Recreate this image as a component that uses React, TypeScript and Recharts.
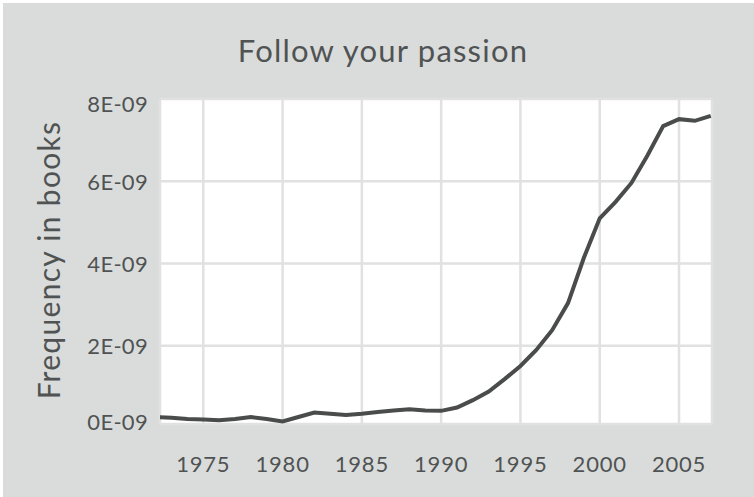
import React from "react";
import { LineChart, Line, XAxis, YAxis, CartesianGrid } from "recharts";

const years = [
  1972, 1973, 1974, 1975, 1976, 1977, 1978, 1979, 1980, 1981, 1982, 1983,
  1984, 1985, 1986, 1987, 1988, 1989, 1990, 1991, 1992, 1993, 1994, 1995,
  1996, 1997, 1998, 1999, 2000, 2001, 2002, 2003, 2004, 2005, 2006, 2007,
];
// frequency in units of 1E-09
const frequency = [
  0.27, 0.25, 0.22, 0.21, 0.19, 0.22, 0.27, 0.22, 0.16, 0.27, 0.38, 0.35,
  0.32, 0.35, 0.39, 0.43, 0.46, 0.43, 0.42, 0.5, 0.68, 0.89, 1.19, 1.51,
  1.9, 2.38, 3.04, 4.14, 5.1, 5.5, 5.96, 6.62, 7.34, 7.51, 7.47, 7.59,
];
const xTicks = [1975, 1980, 1985, 1990, 1995, 2000, 2005];
const yTicks = [0.1e-9, 2e-9, 4e-9, 6e-9, 8e-9];
const title = "Follow your passion";
const yLabel = "Frequency in books";

const data = years.map((y, i) => ({ year: y, freq: frequency[i] * 1e-9 }));

const TEXT = "#505353";
const FONT = "Lato, 'Open Sans', sans-serif";

const XTick = (props: any) => {
  const { x, y, payload } = props;
  return (
    <text x={x} y={y + 31} textAnchor="middle" dominantBaseline="central" fill={TEXT} fontSize={22} letterSpacing={0.8} fontFamily={FONT}>
      {payload.value}
    </text>
  );
};

const YTick = (props: any) => {
  const { y, payload } = props;
  const yy = Math.min(Math.max(y, 103), 421);
  return (
    <text x={148} y={yy} textAnchor="end" dominantBaseline="central" fill={TEXT} fontSize={22} letterSpacing={0.3} fontFamily={FONT}>
      {Math.round(payload.value * 1e9) + "E-09"}
    </text>
  );
};

export default function App() {
  return (
    <div style={{ position: "absolute", left: 0, top: 0, width: 754, height: 497, background: "#fff" }}>
      <div style={{ position: "absolute", left: 3, top: 3, width: 751, height: 494, background: "#dadcdb" }} />
      <div
        style={{
          position: "absolute",
          left: 0,
          top: 30,
          width: 766,
          textAlign: "center",
          fontFamily: FONT,
          fontSize: 31,
          letterSpacing: 1.2,
          color: TEXT,
          lineHeight: "40px",
        }}
      >
        {title}
      </div>
      <svg width={80} height={497} style={{ position: "absolute", left: 0, top: 0 }}>
        <text
          x={48}
          y={260}
          transform="rotate(-90 48 260)"
          textAnchor="middle"
          dominantBaseline="central"
          fill={TEXT}
          fontSize={30}
          letterSpacing={1.3}
          fontFamily={FONT}
        >
          {yLabel}
        </text>
      </svg>
      <div style={{ position: "absolute", left: 0, top: 0 }}>
        <LineChart width={754} height={497} data={data} margin={{ top: 99, right: 42, left: 0, bottom: 0 }}>
          <CartesianGrid fill="#ffffff" stroke="#e1e1e1" strokeWidth={2.5} />
          <XAxis
            dataKey="year"
            type="number"
            domain={[1972.27, 2007.08]}
            allowDataOverflow
            ticks={xTicks}
            interval={0}
            axisLine={false}
            tickLine={false}
            height={73}
            tick={<XTick />}
          />
          <YAxis
            type="number"
            domain={[0.1e-9, 8e-9]}
            allowDataOverflow
            ticks={yTicks}
            interval={0}
            axisLine={false}
            tickLine={false}
            width={160}
            tick={<YTick />}
          />
          <Line
            type="linear"
            dataKey="freq"
            stroke="#4a4c4c"
            strokeWidth={4}
            dot={false}
            isAnimationActive={false}
          />
        </LineChart>
      </div>
    </div>
  );
}
